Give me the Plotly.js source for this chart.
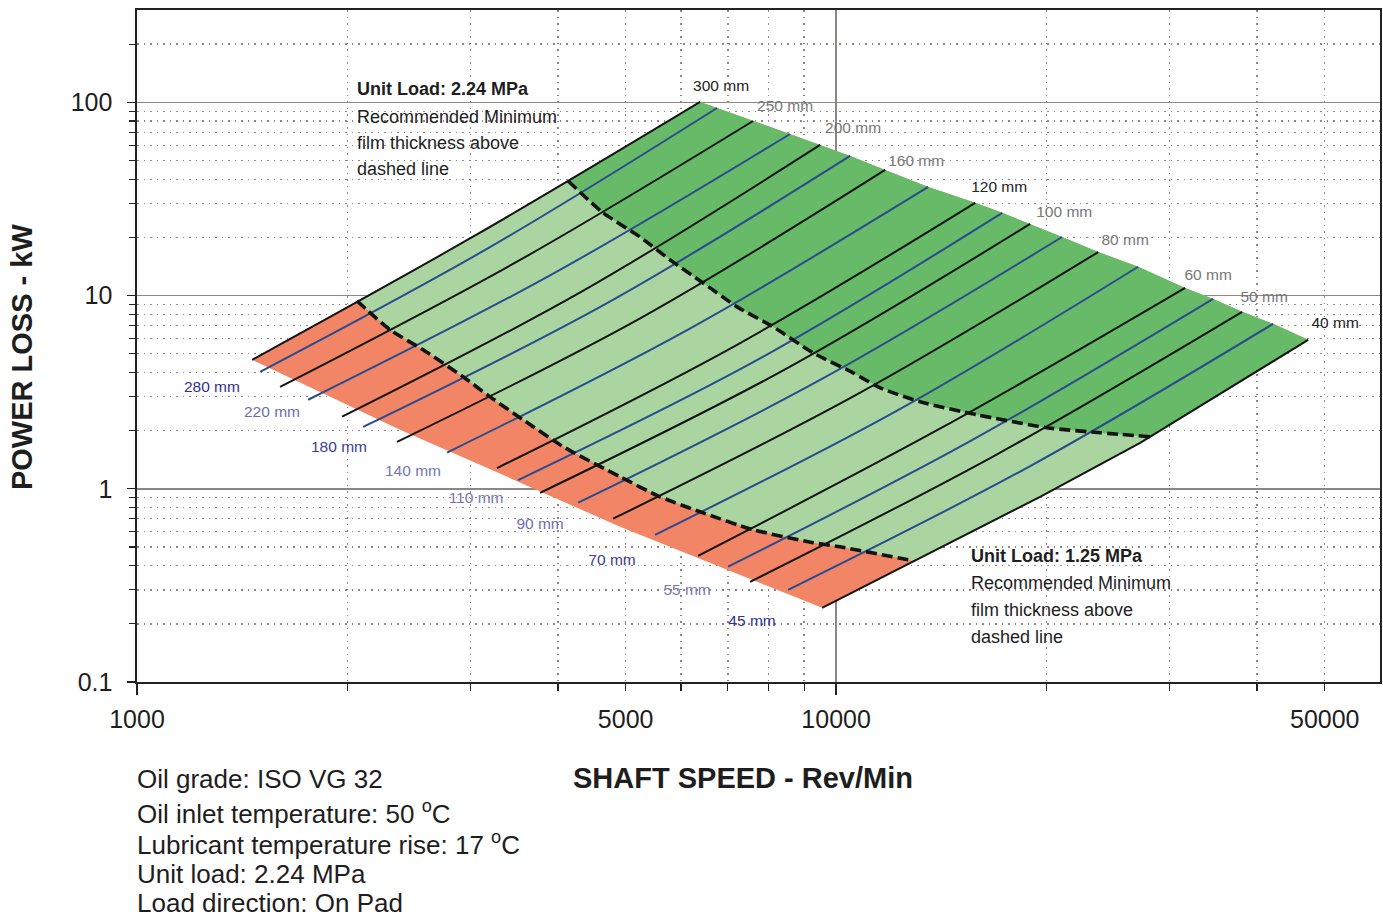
<!DOCTYPE html>
<html>
<head>
<meta charset="utf-8">
<script src="https://cdn.plot.ly/plotly-3.0.1.min.js"></script>
<style>html,body{margin:0;padding:0;background:#fff;}#chart{width:1383px;height:917px;}</style>
</head>
<body>
<div id="chart"></div>
<script>
// ---------------- DATA ----------------
// bearing diameters, mm (alternating black / blue lines); 40 mm is the lower-right boundary below
const diam = [300, 280, 250, 220, 200, 180, 160, 140, 120, 110, 100, 90, 80, 70, 60, 55, 50, 45];
// each curve: start (low speed end), middle, end (high speed end) -- speed rev/min, power kW
const startN = [1461, 1500, 1602, 1757, 1965, 2106, 2355, 2777, 3273, 3509, 3772, 4276, 4797, 5509, 6347, 7007, 7534, 8538];
const startP = [4.65, 4.03, 3.37, 2.89, 2.36, 2.09, 1.75, 1.54, 1.28, 1.11, 0.953, 0.847, 0.700, 0.578, 0.450, 0.395, 0.330, 0.300];
const midN   = [3055, 3184, 3491, 3886, 4318, 4696, 5260, 6131, 7194, 7785, 8453, 9487, 10664, 12206, 14159, 15577, 16940, 18980];
const midP   = [20.6, 17.65, 14.94, 12.65, 10.45, 9.11, 7.67, 6.65, 5.53, 4.73, 4.15, 3.66, 3.05, 2.53, 2.07, 1.77, 1.50, 1.315];
const endN   = [6389, 6756, 7607, 8594, 9487, 10472, 11752, 13543, 15810, 17282, 18950, 21050, 23710, 27040, 31570, 34620, 38090, 42180];
const endP   = [100.5, 93.5, 80.1, 68.6, 60.2, 52.8, 44.7, 36.5, 30.2, 26.8, 23.5, 20.1, 16.8, 14.1, 10.96, 9.61, 8.24, 7.14];
// 40 mm curve (lower-right boundary)
const d40N = [9550, 14086, 19579, 27220, 47340];
const d40P = [0.242, 0.495, 0.909, 1.730, 5.90];

// lower-left boundary of the shaded band
const edgeN = [1461, 2378, 3095, 4909, 9550];
const edgeP = [4.65, 2.02, 1.331, 0.636, 0.242];

// dashed line: minimum film thickness, unit load 1.25 MPa
const dash1N = [2064, 2301, 2566, 2927, 3199, 3567, 4096, 4909, 5600, 6389, 7607, 9270, 10133, 12891];
const dash1P = [9.39, 6.65, 5.24, 3.80, 2.99, 2.275, 1.63, 1.154, 0.909, 0.760, 0.614, 0.526, 0.501, 0.424];
// dashed line: minimum film thickness, unit load 2.24 MPa
const dash2N = [4137, 4642, 5243, 5787, 6453, 7217, 8126, 9270, 10576, 11560, 13190, 15915, 20036, 23860, 28130];
const dash2P = [39.2, 26.8, 20.1, 15.3, 11.63, 8.74, 6.89, 5.05, 3.98, 3.33, 2.82, 2.415, 2.07, 1.95, 1.86];

// diameter labels
const topLabels = ['300 mm', '250 mm', '200 mm', '160 mm', '120 mm', '100 mm', '80 mm', '60 mm', '50 mm', '40 mm'];
const topLabelN = [6847, 8453, 10576, 13019, 17112, 21200, 25910, 34060, 40960, 51740];
const topLabelP = [120.1, 94.7, 72.8, 49.2, 36.1, 26.8, 19.19, 12.65, 9.73, 7.14];
const lowLabels = ['280 mm', '220 mm', '180 mm', '140 mm', '110 mm', '90 mm', '70 mm', '55 mm', '45 mm'];
const lowLabelN = [1280, 1560, 1945, 2482, 3055, 3772, 4781, 6121, 7582];
const lowLabelP = [3.331, 2.474, 1.630, 1.224, 0.888, 0.651, 0.424, 0.297, 0.205];

// axes ticks
const speedTicks = [1000, 5000, 10000, 50000];
const speedTickText = ['1000', '5000', '10000', '50000'];
const speedMinor = [2000, 3000, 4000, 5000, 6000, 7000, 8000, 9000, 20000, 30000, 40000, 50000];
const powerTicks = [0.1, 1, 10, 100];
const powerTickText = ['0.1', '1', '10', '100'];
const powerMinor = [0.2, 0.3, 0.4, 0.5, 0.6, 0.7, 0.8, 0.9, 2, 3, 4, 5, 6, 7, 8, 9, 20, 30, 40, 50, 60, 70, 80, 90, 200];

// notes
const notes = ['Oil grade: ISO VG 32', 'Oil inlet temperature: 50 <sup>o</sup>C', 'Lubricant temperature rise: 17 <sup>o</sup>C', 'Unit load: 2.24 MPa', 'Load direction: On Pad'];

// ---------------- STYLE ----------------
const FONT = 'Liberation Sans, Arial, Helvetica, sans-serif';
const RED = '#F18566', LIGHT = '#AAD5A0', DARK = '#66BA68';
const BLACK = '#141414', BLUE = '#2a4b8d';
const GRID = '#8f8585';
const C = d40N.length - 1;

const traces = [];
const rev = a => a.slice().reverse();

// whole band (salmon)
traces.push({
  x: [...edgeN, ...d40N.slice(1), ...rev(endN), midN[0]],
  y: [...edgeP, ...d40P.slice(1), ...rev(endP), midP[0]],
  mode: 'lines', fill: 'toself', fillcolor: RED, line: {width: 0}, hoverinfo: 'skip'
});
// above 1.25 MPa dashed line (light green)
traces.push({
  x: [...dash1N, ...d40N.slice(1), ...rev(endN), midN[0]],
  y: [...dash1P, ...d40P.slice(1), ...rev(endP), midP[0]],
  mode: 'lines', fill: 'toself', fillcolor: LIGHT, line: {width: 0}, hoverinfo: 'skip'
});
// above 2.24 MPa dashed line (green)
traces.push({
  x: [...dash2N, d40N[C], ...rev(endN)],
  y: [...dash2P, d40P[C], ...rev(endP)],
  mode: 'lines', fill: 'toself', fillcolor: DARK, line: {width: 0}, hoverinfo: 'skip'
});

// diameter curves
diam.forEach((d, i) => {
  traces.push({
    x: [startN[i], midN[i], endN[i]],
    y: [startP[i], midP[i], endP[i]],
    mode: 'lines', name: d + ' mm',
    line: {color: i % 2 ? BLUE : BLACK, width: 2, shape: 'spline', smoothing: 1},
    hoverinfo: 'skip'
  });
});
traces.push({
  x: d40N, y: d40P, mode: 'lines', name: '40 mm',
  line: {color: BLACK, width: 2}, hoverinfo: 'skip'
});

// dashed boundaries
[[dash1N, dash1P], [dash2N, dash2P]].forEach(([xs, ys]) => {
  traces.push({
    x: xs, y: ys, mode: 'lines',
    line: {color: BLACK, width: 3.6, dash: '11px,5px', shape: 'spline', smoothing: 0.6},
    hoverinfo: 'skip'
  });
});

// labels
traces.push({
  x: topLabelN, y: topLabelP, text: topLabels, mode: 'text', textposition: 'middle center',
  textfont: {family: FONT, size: 15.5, color: ['#222', '#777', '#777', '#777', '#222', '#777', '#777', '#777', '#777', '#222']},
  hoverinfo: 'skip'
});
traces.push({
  x: lowLabelN, y: lowLabelP, text: lowLabels, mode: 'text', textposition: 'middle center',
  textfont: {family: FONT, size: 15.5, color: ['#2e3192', '#6b6db4', '#3a3d98', '#7476b8', '#7476b8', '#6b6db4', '#3a3d98', '#7476b8', '#2e3192']},
  hoverinfo: 'skip'
});

// invisible trace to carry the labelled overlay axis
traces.push({x: [1000], y: [1], xaxis: 'x2', mode: 'markers', marker: {opacity: 0}, hoverinfo: 'skip'});

// ---------------- ANNOTATIONS ----------------
const ann = [];
const txt = (text, x, y, size, bold, extra) => Object.assign({
  text: bold ? '<b>' + text + '</b>' : text, xref: 'paper', yref: 'paper', x: x, y: y,
  xanchor: 'left', yanchor: 'middle', showarrow: false,
  font: {family: FONT, size: size, color: '#1e1e1e'}
}, extra || {});

ann.push(txt('Unit Load: 2.24 MPa', 0.1755, 0.8824, 18, true));
ann.push(txt('Recommended Minimum', 0.1755, 0.8408, 18, false));
ann.push(txt('film thickness above', 0.1755, 0.8021, 18, false));
ann.push(txt('dashed line', 0.1755, 0.7634, 18, false));

ann.push(txt('Unit Load: 1.25 MPa', 0.6695, 0.1875, 18, true));
ann.push(txt('Recommended Minimum', 0.6695, 0.1473, 18, false));
ann.push(txt('film thickness above', 0.6695, 0.1071, 18, false));
ann.push(txt('dashed line', 0.6695, 0.0670, 18, false));

const noteY = [-0.1443, -0.1935, -0.2396, -0.2857, -0.3289];
notes.forEach((n, i) => ann.push(txt(n, -0.0015, noteY[i], 26, false)));

ann.push(txt('SHAFT SPEED - Rev/Min', 0.4875, -0.1429, 29, true, {xanchor: 'center'}));
ann.push(txt('POWER LOSS - kW', -0.0925, 0.4836, 29, true, {xanchor: 'center', textangle: -90}));

// ---------------- LAYOUT ----------------
const layout = {
  width: 1383, height: 917,
  margin: {l: 137, r: 3, t: 10, b: 235, pad: 0},
  paper_bgcolor: '#ffffff', plot_bgcolor: '#ffffff',
  showlegend: false,
  font: {family: FONT, color: '#1e1e1e'},
  xaxis: {
    type: 'log', range: [3, 4.778], tickvals: [1000, 10000], showticklabels: false,
    ticks: 'outside', ticklen: 11, tickwidth: 1.3, tickcolor: '#222',
    showgrid: true, gridcolor: GRID, gridwidth: 1.6,
    showline: true, linecolor: '#222', linewidth: 1.6, mirror: true, zeroline: false,
    minor: {tickvals: speedMinor, ticks: 'outside', ticklen: 7, tickwidth: 1.2, tickcolor: '#222',
            showgrid: true, gridcolor: GRID, gridwidth: 1.4, griddash: '1.5px,5px'},
    fixedrange: true
  },
  xaxis2: {
    type: 'log', range: [3, 4.778], overlaying: 'x', anchor: 'y', side: 'bottom',
    tickvals: speedTicks, ticktext: speedTickText, ticks: '', showgrid: false, showline: false,
    zeroline: false, tickfont: {family: FONT, size: 25, color: '#1e1e1e'}, ticklabelstandoff: 20,
    fixedrange: true
  },
  yaxis: {
    type: 'log', range: [-1, 2.478], tickvals: powerTicks, ticktext: powerTickText,
    ticks: 'outside', ticklen: 8, tickwidth: 1.3, tickcolor: '#222',
    tickfont: {family: FONT, size: 25, color: '#1e1e1e'}, ticklabelstandoff: 10,
    showgrid: true, gridcolor: GRID, gridwidth: 1.6,
    showline: true, linecolor: '#222', linewidth: 1.6, mirror: true, zeroline: false,
    minor: {tickvals: powerMinor, ticks: 'outside', ticklen: 6, tickwidth: 1.2, tickcolor: '#222',
            showgrid: true, gridcolor: GRID, gridwidth: 1.4, griddash: '1.5px,5px'},
    fixedrange: true
  },
  annotations: ann
};

Plotly.newPlot('chart', traces, layout, {displayModeBar: false, staticPlot: true});
</script>
</body>
</html>
